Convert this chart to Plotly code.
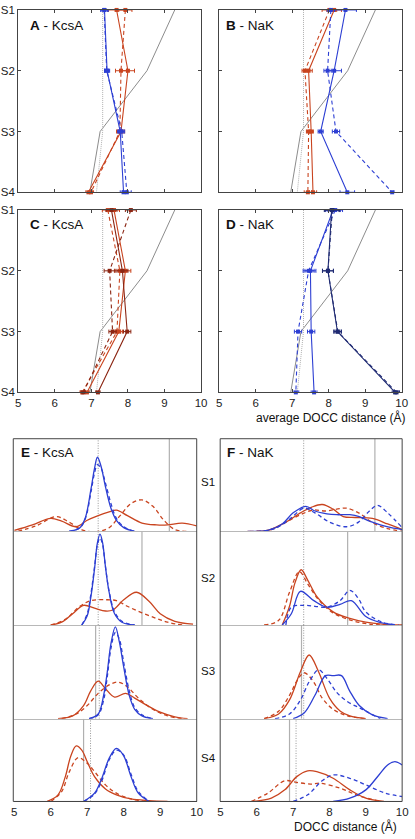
import plotly.graph_objects as go

# ---------------- data ----------------
sites = [1, 2, 3, 4]
site_labels = ["S1", "S2", "S3", "S4"]
x_ticks = [5, 6, 7, 8, 9, 10]

# reference (crystal) DOCC distances and dotted reference
ref_xtal = [9.28, 8.52, 7.24, 6.96]
ref_dot = [7.31, 7.31, 7.31, 7.14]

# Panel A - KcsA
a_blue_solid = [7.36, 7.43, 7.79, 7.88]
a_blue_solid_err = [0.1, 0.07, 0.07, 0.09]
a_blue_dash = [7.35, 7.42, 7.83, 7.97]
a_blue_dash_err = [0.09, 0.06, 0.08, 0.12]
a_red_solid = [7.69, 8.0, 7.81, 6.92]
a_red_solid_err = [0.22, 0.18, 0.1, 0.07]
a_red_dash = [7.93, 7.81, 7.78, 6.99]
a_red_dash_err = [0.18, 0.15, 0.09, 0.07]

# Panel B - NaK
b_red_solid = [8.15, 7.45, 7.52, 7.57]
b_red_solid_err = [0.2, 0.1, 0.06, 0.1]
b_red_dash = [8.02, 7.35, 7.45, 7.43]
b_red_dash_err = [0.2, 0.08, 0.06, 0.1]
b_blue_solid = [8.46, 8.15, 7.78, 8.51]
b_blue_solid_err = [0.3, 0.2, 0.07, 0.2]
b_blue_dash = [8.06, 7.97, 8.2, 9.74]
b_blue_dash_err = [0.1, 0.1, 0.1, 0.05]

# Panel C - KcsA (variants)
c_dk_solid = [7.55, 7.85, 7.98, 7.18]
c_dk_dash = [8.08, 7.5, 7.58, 6.78]
c_rd_solid = [7.62, 7.93, 7.75, 6.88]
c_rd_dash = [7.45, 7.78, 7.7, 6.75]
c_err = [0.15, 0.15, 0.1, 0.06]

# Panel D - NaK (variants)
d_nv_solid = [8.08, 7.98, 8.24, 9.82]
d_nv_dash = [8.1, 7.98, 8.25, 9.86]
d_bl_solid = [8.12, 7.5, 7.52, 7.6]
d_bl_dash = [8.18, 7.45, 7.16, 7.1]
d_err = [0.2, 0.15, 0.1, 0.08]

# Panel E / F distributions: reference lines per site
dist_ref_solid = [9.25, 8.5, 7.23, 6.9]
e_ref_dot = [7.3, 7.3, 7.33, 7.09]
f_ref_dot = [7.29, 7.29, 7.29, 7.08]

# E - KcsA distributions (x, height) per site
e_blue_solid = [
    ([6.5, 6.8, 6.95, 7.1, 7.2, 7.28, 7.38, 7.5, 7.65, 7.8, 8.0, 8.3],
     [0, 0.04, 0.15, 0.45, 0.68, 0.80, 0.70, 0.48, 0.25, 0.12, 0.04, 0]),
    ([6.85, 7.0, 7.1, 7.2, 7.28, 7.35, 7.42, 7.5, 7.6, 7.75, 7.95, 8.3],
     [0, 0.1, 0.3, 0.6, 0.88, 0.97, 0.88, 0.62, 0.35, 0.12, 0.03, 0]),
    ([7.05, 7.3, 7.45, 7.55, 7.65, 7.77, 7.88, 8.0, 8.15, 8.3, 8.5, 8.8],
     [0, 0.05, 0.25, 0.5, 0.8, 0.98, 0.82, 0.55, 0.25, 0.1, 0.03, 0]),
    ([6.9, 7.2, 7.4, 7.6, 7.8, 8.0, 8.2, 8.4, 8.7],
     [0, 0.1, 0.28, 0.52, 0.64, 0.55, 0.3, 0.1, 0]),
]
e_blue_dash = [
    ([6.5, 6.8, 6.95, 7.1, 7.2, 7.28, 7.38, 7.5, 7.65, 7.8, 8.0, 8.3],
     [0, 0.04, 0.14, 0.42, 0.63, 0.72, 0.68, 0.52, 0.30, 0.14, 0.05, 0]),
    ([6.85, 7.0, 7.1, 7.2, 7.28, 7.35, 7.42, 7.5, 7.6, 7.75, 7.95, 8.3],
     [0, 0.12, 0.33, 0.62, 0.86, 0.93, 0.86, 0.62, 0.36, 0.14, 0.04, 0]),
    ([7.05, 7.3, 7.45, 7.55, 7.65, 7.77, 7.88, 8.0, 8.15, 8.3, 8.5, 8.8],
     [0, 0.04, 0.2, 0.45, 0.75, 0.92, 0.85, 0.6, 0.3, 0.12, 0.04, 0]),
    ([6.9, 7.2, 7.4, 7.6, 7.8, 8.0, 8.2, 8.4, 8.7],
     [0, 0.09, 0.25, 0.5, 0.62, 0.56, 0.33, 0.12, 0]),
]
e_red_solid = [
    ([5.0, 5.5, 6.0, 6.3, 6.7, 7.0, 7.3, 7.6, 7.8, 8.1, 8.5, 8.9, 9.2, 9.6, 10.0],
     [0.01, 0.07, 0.14, 0.11, 0.05, 0.12, 0.17, 0.21, 0.23, 0.17, 0.09, 0.07, 0.07, 0.09, 0.06]),
    ([6.0, 6.3, 6.6, 6.9, 7.2, 7.5, 7.7, 8.0, 8.35, 8.7, 9.0, 9.4, 9.9],
     [0, 0.03, 0.12, 0.21, 0.18, 0.15, 0.16, 0.27, 0.35, 0.25, 0.12, 0.04, 0.01]),
    ([6.2, 6.6, 6.9, 7.1, 7.3, 7.5, 7.75, 8.05, 8.3, 8.6, 9.0, 9.4, 9.75],
     [0, 0.03, 0.14, 0.3, 0.40, 0.32, 0.23, 0.27, 0.22, 0.15, 0.07, 0.02, 0]),
    ([5.9, 6.2, 6.4, 6.55, 6.7, 6.85, 7.0, 7.2, 7.5, 7.8, 8.2, 8.7, 9.2],
     [0, 0.08, 0.3, 0.55, 0.67, 0.62, 0.48, 0.3, 0.15, 0.08, 0.03, 0.01, 0]),
]
e_red_dash = [
    ([5.1, 5.6, 6.15, 6.5, 6.9, 7.3, 7.6, 7.9, 8.2, 8.5, 8.8, 9.1, 9.4, 9.8],
     [0, 0.06, 0.16, 0.1, 0.01, 0.0, 0.04, 0.17, 0.3, 0.34, 0.27, 0.12, 0.02, 0]),
    ([6.0, 6.4, 6.8, 7.1, 7.5, 7.8, 8.1, 8.5, 8.9, 9.2, 9.6],
     [0, 0.06, 0.2, 0.26, 0.27, 0.26, 0.2, 0.13, 0.07, 0.03, 0]),
    ([6.3, 6.7, 7.0, 7.3, 7.6, 7.85, 8.1, 8.4, 8.8, 9.2, 9.6],
     [0, 0.05, 0.14, 0.27, 0.36, 0.39, 0.34, 0.22, 0.1, 0.03, 0]),
    ([6.0, 6.3, 6.5, 6.75, 7.0, 7.2, 7.5, 7.8, 8.2, 8.6],
     [0, 0.12, 0.35, 0.53, 0.46, 0.36, 0.2, 0.1, 0.03, 0]),
]

# F - NaK distributions
f_blue_solid = [
    ([5.75, 6.3, 6.7, 7.0, 7.35, 7.6, 7.93, 8.2, 8.56, 8.82, 9.1, 9.4, 9.7, 10.0],
     [0, 0.01, 0.08, 0.2, 0.27, 0.22, 0.19, 0.18, 0.18, 0.16, 0.11, 0.07, 0.04, 0.02]),
    ([6.7, 6.95, 7.2, 7.57, 7.93, 8.29, 8.6, 9.0, 9.36, 9.8],
     [0, 0.12, 0.36, 0.26, 0.19, 0.22, 0.26, 0.09, 0.03, 0.0]),
    ([7.0, 7.3, 7.6, 7.89, 8.1, 8.33, 8.55, 8.82, 9.18, 9.6],
     [0, 0.06, 0.25, 0.46, 0.46, 0.46, 0.3, 0.14, 0.04, 0]),
    ([8.1, 8.56, 9.0, 9.36, 9.6, 9.8, 10.0],
     [0, 0.04, 0.14, 0.32, 0.44, 0.48, 0.44]),
]
f_blue_dash = [
    ([6.0, 6.5, 6.9, 7.3, 7.6, 8.0, 8.47, 8.8, 9.1, 9.32, 9.6, 10.0],
     [0, 0.03, 0.13, 0.25, 0.2, 0.1, 0.05, 0.1, 0.22, 0.28, 0.2, 0.04]),
    ([6.8, 6.95, 7.3, 7.6, 7.93, 8.29, 8.56, 8.8, 9.0, 9.45, 9.9],
     [0, 0.19, 0.21, 0.2, 0.19, 0.26, 0.37, 0.28, 0.14, 0.03, 0.0]),
    ([6.5, 6.9, 7.2, 7.45, 7.7, 7.95, 8.2, 8.5, 8.8, 9.0, 9.4],
     [0, 0.05, 0.2, 0.4, 0.52, 0.42, 0.28, 0.18, 0.12, 0.08, 0]),
    ([7.0, 7.4, 7.8, 8.11, 8.56, 9.0, 9.54, 10.0],
     [0, 0.08, 0.25, 0.32, 0.28, 0.2, 0.1, 0.06]),
]
f_red_solid = [
    ([5.74, 6.3, 6.8, 7.2, 7.5, 7.8, 8.1, 8.38, 8.7, 9.18, 9.6, 10.0],
     [0, 0.01, 0.1, 0.2, 0.26, 0.29, 0.24, 0.16, 0.15, 0.14, 0.08, 0.02]),
    ([6.7, 6.9, 7.05, 7.22, 7.4, 7.66, 8.1, 8.56, 9.0, 9.45, 10.0],
     [0, 0.2, 0.45, 0.59, 0.48, 0.3, 0.14, 0.07, 0.03, 0.01, 0]),
    ([6.2, 6.6, 6.9, 7.2, 7.44, 7.7, 8.0, 8.3, 8.56, 9.0],
     [0, 0.05, 0.2, 0.5, 0.68, 0.5, 0.22, 0.08, 0.03, 0]),
    ([5.9, 6.4, 6.77, 7.1, 7.4, 7.65, 8.1, 8.56, 9.0, 9.5],
     [0, 0.04, 0.14, 0.3, 0.37, 0.36, 0.28, 0.14, 0.04, 0]),
]
f_red_dash = [
    ([5.8, 6.4, 6.8, 7.2, 7.55, 7.9, 8.2, 8.47, 8.8, 9.2, 9.6, 10.0],
     [0, 0.02, 0.1, 0.18, 0.23, 0.22, 0.24, 0.25, 0.2, 0.09, 0.03, 0.0]),
    ([6.2, 6.6, 6.9, 7.17, 7.4, 7.7, 8.1, 8.6, 9.1, 9.6],
     [0, 0.05, 0.35, 0.57, 0.44, 0.27, 0.13, 0.05, 0.01, 0]),
    ([6.2, 6.6, 6.9, 7.1, 7.3, 7.55, 7.8, 8.1, 8.5, 9.0],
     [0, 0.08, 0.25, 0.4, 0.49, 0.4, 0.22, 0.1, 0.03, 0]),
    ([5.85, 6.3, 6.77, 7.1, 7.48, 7.75, 8.29, 8.8, 9.3],
     [0, 0.1, 0.25, 0.23, 0.21, 0.22, 0.16, 0.07, 0.01]),
]

# ---------------- style ----------------
W, H = 415, 839
RED = "#C9441F"
BLUE = "#2D3FD3"
DKRED = "#8B2512"
NAVY = "#1F2A72"
GRAY = "#8c8c8c"
LGRAY = "#b0b0b0"
FRAME = "#444444"
FONT = "Liberation Sans, Arial, sans-serif"
DASH = "4px,3px"


def dx(a, b):
    return [a / W, b / W]


def dy(top, bottom):
    return [1 - bottom / H, 1 - top / H]


fig = go.Figure()


def top_series(ax, x, err, color, dash, marker=True):
    fig.add_trace(go.Scatter(
        x=x, y=sites, xaxis="x" + ax, yaxis="y" + ax, mode="lines+markers",
        line=dict(color=color, width=1.1, dash=DASH if dash else "solid"),
        marker=dict(symbol="square", size=4, color=color),
        error_x=dict(type="data", array=err, color=color, thickness=1, width=2),
        cliponaxis=False, showlegend=False, hoverinfo="skip"))


def ref_lines(ax):
    fig.add_trace(go.Scatter(x=ref_xtal, y=sites, xaxis="x" + ax, yaxis="y" + ax,
                             mode="lines", line=dict(color=GRAY, width=1),
                             showlegend=False, hoverinfo="skip"))
    fig.add_trace(go.Scatter(x=ref_dot, y=sites, xaxis="x" + ax, yaxis="y" + ax,
                             mode="lines", line=dict(color=LGRAY, width=1, dash="1px,1px"),
                             showlegend=False, hoverinfo="skip"))


# Panel A
ref_lines("")
top_series("", a_red_dash, a_red_dash_err, RED, True)
top_series("", a_red_solid, a_red_solid_err, RED, False)
top_series("", a_blue_dash, a_blue_dash_err, BLUE, True)
top_series("", a_blue_solid, a_blue_solid_err, BLUE, False)
# Panel B
ref_lines("2")
top_series("2", b_red_dash, b_red_dash_err, RED, True)
top_series("2", b_red_solid, b_red_solid_err, RED, False)
top_series("2", b_blue_dash, b_blue_dash_err, BLUE, True)
top_series("2", b_blue_solid, b_blue_solid_err, BLUE, False)
# Panel C
ref_lines("3")
top_series("3", c_rd_dash, c_err, RED, True)
top_series("3", c_rd_solid, c_err, RED, False)
top_series("3", c_dk_dash, c_err, DKRED, True)
top_series("3", c_dk_solid, c_err, DKRED, False)
# Panel D
ref_lines("4")
top_series("4", d_bl_dash, d_err, BLUE, True)
top_series("4", d_bl_solid, d_err, BLUE, False)
top_series("4", d_nv_dash, d_err, NAVY, True)
top_series("4", d_nv_solid, d_err, NAVY, False)


def dist_panel(axnum, i, ref_dot_list, curves):
    ax = str(axnum)
    fig.add_trace(go.Scatter(x=[dist_ref_solid[i]] * 2, y=[0, 1], xaxis="x" + ax, yaxis="y" + ax,
                             mode="lines", line=dict(color=LGRAY, width=1.2),
                             showlegend=False, hoverinfo="skip"))
    fig.add_trace(go.Scatter(x=[ref_dot_list[i]] * 2, y=[0, 1], xaxis="x" + ax, yaxis="y" + ax,
                             mode="lines", line=dict(color=GRAY, width=0.9, dash="1px,1.5px"),
                             showlegend=False, hoverinfo="skip"))
    for data, color, dash in curves:
        xs, ys = data[i]
        fig.add_trace(go.Scatter(x=xs, y=ys, xaxis="x" + ax, yaxis="y" + ax, mode="lines",
                                 line=dict(color=color, width=1.3, shape="spline", smoothing=1.0,
                                           dash=DASH if dash else "solid"),
                                 showlegend=False, hoverinfo="skip"))


e_curves = [(e_red_dash, RED, True), (e_red_solid, RED, False),
            (e_blue_dash, BLUE, True), (e_blue_solid, BLUE, False)]
f_curves = [(f_red_dash, RED, True), (f_red_solid, RED, False),
            (f_blue_dash, BLUE, True), (f_blue_solid, BLUE, False)]
for i in range(4):
    dist_panel(5 + i, i, e_ref_dot, e_curves)
    dist_panel(9 + i, i, f_ref_dot, f_curves)

# ---------------- layout ----------------
layout = dict(width=W, height=H, margin=dict(l=0, r=0, t=0, b=0),
              paper_bgcolor="white", plot_bgcolor="white",
              font=dict(family=FONT, size=11, color="#222"))

top_x = {"": dx(15.5, 202.5), "2": dx(221, 407.5), "3": dx(15.5, 202.5), "4": dx(221, 407.5)}
top_y = {"": dy(4, 189), "2": dy(4, 189), "3": dy(207, 392), "4": dy(207, 392)}
for key in ["", "2", "3", "4"]:
    layout["xaxis" + key] = dict(
        domain=top_x[key], anchor="y" + key, range=[5, 10], tickvals=x_ticks,
        showticklabels=key in ("3", "4"), ticks="inside", ticklen=3, tickcolor=FRAME,
        showline=True, linecolor=FRAME, linewidth=1, mirror="ticks",
        showgrid=False, zeroline=False, tickfont=dict(size=11.5, color="#222"))
    layout["yaxis" + key] = dict(
        domain=top_y[key], anchor="x" + key, range=[4, 1], tickvals=sites, ticktext=site_labels,
        showticklabels=key in ("", "3"), ticks="inside", ticklen=3, tickcolor=FRAME,
        showline=True, linecolor=FRAME, linewidth=1, mirror="ticks",
        showgrid=False, zeroline=False, tickfont=dict(size=11.5, color="#222"))

sub_bounds = [439, 533, 628, 723, 807]
for i in range(4):
    for base, xd in ((5, dx(11.5, 198)), (9, dx(222.3, 408))):
        k = str(base + i)
        last = i == 3
        layout["xaxis" + k] = dict(
            domain=xd, anchor="y" + k, range=[5, 10], tickvals=x_ticks,
            showticklabels=last, ticks="", showline=True,
            linecolor=FRAME if last else "#b8b8b8", linewidth=1,
            showgrid=False, zeroline=False, tickfont=dict(size=11.5, color="#222"))
        layout["yaxis" + k] = dict(
            domain=dy(sub_bounds[i], sub_bounds[i + 1]), anchor="x" + k, range=[0, 1],
            visible=False, showgrid=False, zeroline=False)

shapes = []
for (x0, x1) in ((10.5, 198), (222, 408)):
    shapes.append(dict(type="rect", xref="paper", yref="paper",
                       x0=x0 / W, x1=x1 / W, y0=1 - 807 / H, y1=1 - 439 / H,
                       line=dict(color=FRAME, width=1)))
layout["shapes"] = shapes

ann = []


def label(text, xpx, ypx, size=13.5, anchor="left"):
    ann.append(dict(text=text, x=xpx / W, y=1 - ypx / H, xref="paper", yref="paper",
                    xanchor=anchor, yanchor="middle", showarrow=False,
                    font=dict(size=size, color="#111", family=FONT)))


label("<b>A</b> - KcsA", 26, 20)
label("<b>B</b> - NaK", 226, 20)
label("<b>C</b> - KcsA", 26, 222)
label("<b>D</b> - NaK", 226, 222)
label("<b>E</b> - KcsA", 16, 453)
label("<b>F</b> - NaK", 227, 453)
for s, ypx in zip(site_labels, [483, 580, 675, 763]):
    label(s, 210, ypx, size=11.5, anchor="center")
label("average DOCC distance (Å)", 413, 417, size=12, anchor="right")
label("DOCC distance (Å)", 405, 832, size=12, anchor="right")
layout["annotations"] = ann

fig.update_layout(**layout)
fig.write_html("out.html", config={"displayModeBar": False},
               post_script="document.body.style.margin='0';document.body.style.overflow='hidden';")
